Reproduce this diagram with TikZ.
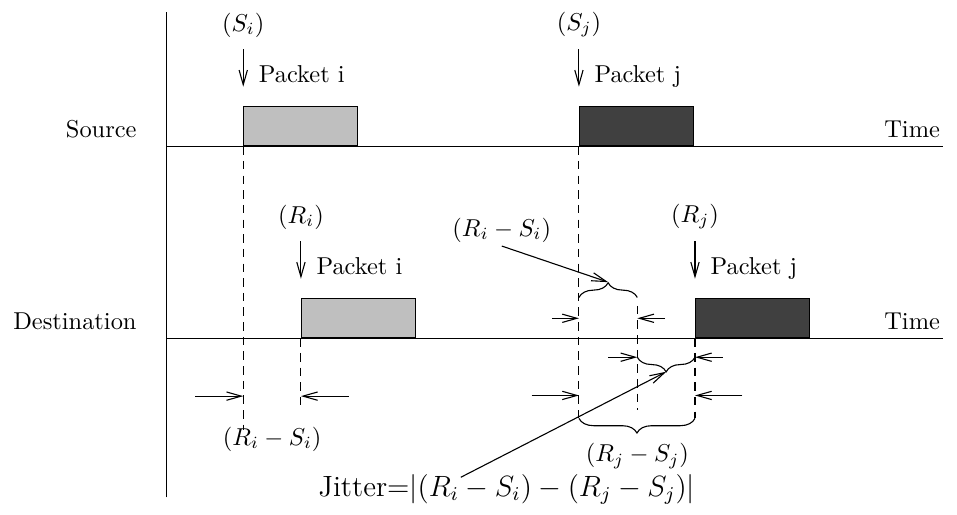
\documentclass[tikz,border=0pt]{standalone}
\usepackage[svgnames]{xcolor}
\usepackage{amsmath}
\usepackage{tikz}
\usetikzlibrary{arrows.meta,positioning,decorations.pathreplacing}
\definecolor{pktlight}{gray}{0.75}
\definecolor{pktdark}{gray}{0.25}

\begin{document}
\begin{tikzpicture}[line width=0.45pt,
	tip/.style={-{Straight Barb[length=6pt,width=3.4pt]}},
	gap/.style={dash pattern=on 3.5pt off 2.5pt},
	pkt/.style={draw,anchor=south west,inner sep=0,minimum width=1.64cm,minimum height=0.56cm},
	brcup/.style={decorate,decoration={brace,amplitude=6pt}},
	brcdown/.style={decorate,decoration={brace,mirror,amplitude=6pt}}]
	\useasboundingbox (0,0) rectangle (13.77,7.40);
	\draw (2.39,0.245) -- (2.39,7.22);
	\draw (2.39,5.295) -- (13.57,5.295);
	\draw (2.39,2.532) -- (13.57,2.532);
	\node[anchor=base east] (srcLbl) at (2.09,5.42) {Source};
	\node[anchor=base east] (dstLbl) at (2.09,2.66) {Destination};
	\node[anchor=base east] (timeS) at (13.65,5.42) {Time};
	\node[anchor=base east] (timeD) at (13.65,2.66) {Time};
	\node[pkt,fill=pktlight] (srcI) at (3.5,5.295) {};
	\node[pkt,fill=pktdark] (srcJ) at (8.33,5.295) {};
	\node[pkt,fill=pktlight] (dstI) at (4.33,2.532) {};
	\node[pkt,fill=pktdark] (dstJ) at (10.0,2.532) {};
	\node[above=0.87cm of srcI.north west] (Si) {$(S_i)$};
	\node[above=0.87cm of srcJ.north west] (Sj) {$(S_j)$};
	\node[above=0.87cm of dstI.north west] (Ri) {$(R_i)$};
	\node[above=0.87cm of dstJ.north west] (Rj) {$(R_j)$};
	\draw[tip] ([yshift=-1.5pt]Si.south) -- ([yshift=8pt]srcI.north west);
	\draw[tip] ([yshift=-1.5pt]Sj.south) -- ([yshift=8pt]srcJ.north west);
	\draw[tip] ([yshift=-1.5pt]Ri.south) -- ([yshift=8pt]dstI.north west);
	\draw[tip] ([yshift=-1.5pt]Rj.south) -- ([yshift=8pt]dstJ.north west);
	\node[anchor=base west] (pSI) at ([xshift=0.1cm,yshift=0.345cm]srcI.north west) {Packet i};
	\node[anchor=base west] (pSJ) at ([xshift=0.1cm,yshift=0.345cm]srcJ.north west) {Packet j};
	\node[anchor=base west] (pDI) at ([xshift=0.1cm,yshift=0.345cm]dstI.north west) {Packet i};
	\node[anchor=base west] (pDJ) at ([xshift=0.1cm,yshift=0.345cm]dstJ.north west) {Packet j};
	\draw[gap] (srcI.south west) -- ++(0,-4.085);
	\draw[gap] (dstI.south west) -- ++(0,-1.03);
	\draw[gap] (srcJ.south west) -- ++(0,-3.915);
	\draw[gap] (9.17,3.0) -- (9.17,1.5);
	\draw[gap] (dstJ.south west) -- ++(0,-1.15);
	\draw[tip] (2.81,1.70) -- (3.5,1.70);
	\draw[tip] (5.02,1.70) -- (4.33,1.70);
	\draw[tip] (7.94,2.82) -- (8.33,2.82);
	\draw[tip] (9.57,2.82) -- (9.17,2.82);
	\draw[tip] (8.75,2.26) -- (9.17,2.26);
	\draw[tip] (10.40,2.26) -- (10.0,2.26);
	\draw[tip] (7.65,1.71) -- (8.33,1.71);
	\draw[tip] (10.68,1.71) -- (10.0,1.71);
	\draw[brcup] (8.33,3.12) -- (9.17,3.12);
	\draw[brcdown] (9.17,2.26) -- (10.0,2.26);
	\draw[brcdown] (8.33,1.38) -- (10.0,1.38);
	\node (lblRiSiB) at (3.915,1.08) {$(R_i - S_i)$};
	\node (lblRiSiT) at (7.22,4.09) {$(R_i - S_i)$};
	\node (lblRjSj) at (9.17,0.84) {$(R_j - S_j)$};
	\node (lblJit) at (7.29,0.36) {\large Jitter=$|(R_i - S_i) - (R_j - S_j)|$};
	\coordinate (tipTop) at (8.75,3.34);
	\coordinate (tipMid) at (9.585,2.05);
	\coordinate (jitStart) at ([xshift=-0.66cm,yshift=-0.17cm]lblJit.north);
	\draw[tip] ([yshift=2pt]lblRiSiT.south) -- (tipTop);
	\draw[tip] (jitStart) -- (tipMid);
\end{tikzpicture}
\end{document}
